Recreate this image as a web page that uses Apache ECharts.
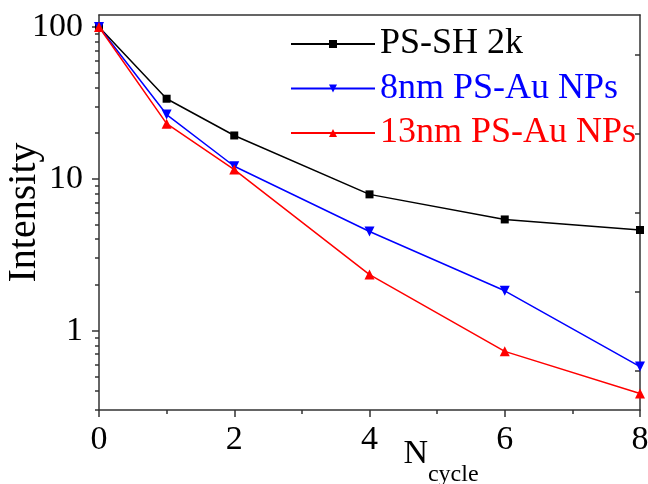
<!DOCTYPE html>
<html>
<head>
<meta charset="utf-8">
<script src="https://cdn.jsdelivr.net/npm/echarts@6/dist/echarts.min.js"></script>
<style>
  html, body { margin: 0; padding: 0; background: #fff; }
  #chart { width: 648px; height: 484px; }
</style>
</head>
<body>
<div id="chart"></div>
<script>
// 数据
const cycles = [0, 1, 2, 4, 6, 8]
const psSh2k = [100, 33.7, 19.3, 7.9, 5.4, 4.6]
const au8nm = [100, 26.5, 12.1, 4.5, 1.83, 0.58]
const au13nm = [100, 23.1, 11.5, 2.34, 0.73, 0.385]

const seriesNames = ['PS-SH 2k', '8nm PS-Au NPs', '13nm PS-Au NPs']
const seriesColors = ['#000000', '#0000ff', '#ff0000']

// 刻度
const yMajorTicks = [1, 10, 100]
const yMinorTicks = [0.3, 0.4, 0.5, 0.6, 0.7, 0.8, 0.9, 2, 3, 4, 5, 6, 7, 8, 9, 20, 30, 40, 50, 60, 70, 80, 90]
const rightTicks = [1, 3, 5, 7, 9]

const font = 'Liberation Serif'
const axisColor = '#333'

const toPoints = (ys) => cycles.map((x, i) => [x, ys[i]])

const chart = echarts.init(document.getElementById('chart'))

const option = {
  animation: false,
  backgroundColor: '#fff',
  grid: { left: 99, right: 8, top: 15, bottom: 74, containLabel: false, outerBoundsMode: 'none' },
  legend: {
    orient: 'vertical',
    left: 285,
    top: 21,
    itemWidth: 84,
    itemHeight: 10,
    itemGap: 8.5,
    textStyle: { fontFamily: font, fontSize: 36, lineHeight: 36 },
    data: seriesNames.map((n, i) => ({ name: n, textStyle: { color: seriesColors[i] } }))
  },
  xAxis: [
    {
      type: 'value',
      position: 'bottom',
      min: 0,
      max: 8,
      interval: 2,
      name: '{n|N}{s|cycle}',
      nameLocation: 'middle',
      nameGap: 43,
      nameMoveOverlap: false,
      nameTextStyle: {
        padding: [0, 0, 0, 143],
        rich: {
          n: { fontFamily: font, fontSize: 34, lineHeight: 34, color: '#000', verticalAlign: 'bottom', padding: [0, 0, 16, 0] },
          s: { fontFamily: font, fontSize: 24, lineHeight: 24, color: '#000', verticalAlign: 'bottom' }
        }
      },
      axisLine: { show: true, lineStyle: { color: axisColor, width: 1.5 } },
      axisTick: { show: true, inside: false, length: 7, lineStyle: { color: axisColor, width: 1.5 } },
      minorTick: { show: true, splitNumber: 2, length: 4, lineStyle: { color: axisColor, width: 1.5 } },
      axisLabel: { fontFamily: font, fontSize: 34, color: '#000', margin: 13 },
      splitLine: { show: false }
    },
    {
      type: 'value',
      position: 'top',
      min: 0,
      max: 8,
      axisLine: { show: true, lineStyle: { color: axisColor, width: 1.5 } },
      axisTick: { show: false },
      axisLabel: { show: false },
      splitLine: { show: false }
    }
  ],
  yAxis: [
    {
      type: 'log',
      logBase: 10,
      position: 'left',
      min: 0.3,
      max: 120,
      name: 'Intensity',
      nameLocation: 'middle',
      nameGap: 55,
      nameMoveOverlap: false,
      nameTextStyle: { fontFamily: font, fontSize: 40, color: '#000' },
      axisLine: { show: true, lineStyle: { color: axisColor, width: 1.5 } },
      axisTick: { show: true, inside: false, length: 7, customValues: yMajorTicks, lineStyle: { color: axisColor, width: 1.5 } },
      axisLabel: { fontFamily: font, fontSize: 34, color: '#000', margin: 16, customValues: yMajorTicks },
      splitLine: { show: false }
    },
    {
      // 左侧次刻度
      type: 'log',
      logBase: 10,
      position: 'left',
      min: 0.3,
      max: 120,
      axisLine: { show: false },
      axisTick: { show: true, inside: false, length: 4, customValues: yMinorTicks, lineStyle: { color: axisColor, width: 1.5 } },
      axisLabel: { show: false },
      splitLine: { show: false }
    },
    {
      // 右侧边框刻度
      type: 'value',
      position: 'right',
      min: 0,
      max: 10,
      axisLine: { show: true, lineStyle: { color: axisColor, width: 1.5 } },
      axisTick: { show: true, inside: true, length: 5, customValues: rightTicks, lineStyle: { color: axisColor, width: 1.5 } },
      axisLabel: { show: false },
      splitLine: { show: false }
    }
  ],
  series: [
    {
      name: seriesNames[0], type: 'line', symbol: 'rect', symbolSize: 8,
      lineStyle: { color: seriesColors[0], width: 1.5 },
      itemStyle: { color: seriesColors[0] },
      data: toPoints(psSh2k)
    },
    {
      name: seriesNames[1], type: 'line', symbol: 'triangle', symbolRotate: 180, symbolSize: 10,
      lineStyle: { color: seriesColors[1], width: 1.5 },
      itemStyle: { color: seriesColors[1] },
      data: toPoints(au8nm)
    },
    {
      name: seriesNames[2], type: 'line', symbol: 'triangle', symbolSize: 10,
      lineStyle: { color: seriesColors[2], width: 1.5 },
      itemStyle: { color: seriesColors[2] },
      data: toPoints(au13nm)
    }
  ]
}

chart.setOption(option)
</script>
</body>
</html>
